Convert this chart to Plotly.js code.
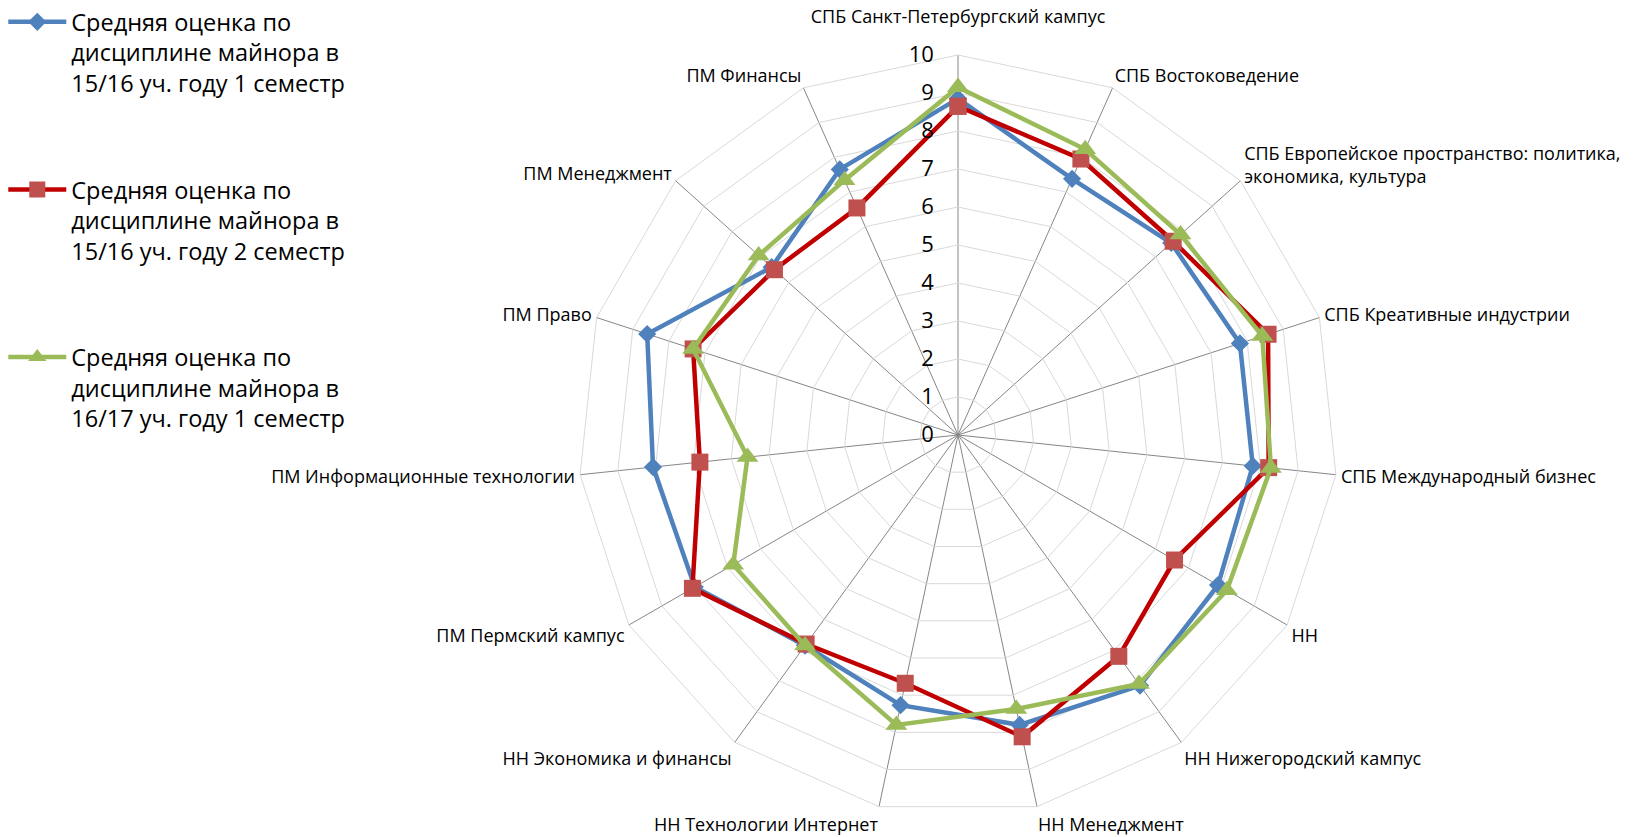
<!DOCTYPE html>
<html>
<head>
<meta charset="utf-8">
<script src="https://cdn.plot.ly/plotly-3.0.1.min.js"></script>
<style>
  html, body { margin: 0; padding: 0; background: #ffffff; }
  #chart { width: 1640px; height: 837px; }
</style>
</head>
<body>
<div id="chart"></div>
<script>
const categories = [
  "СПБ Санкт-Петербургский кампус",
  "СПБ Востоковедение",
  "СПБ Европейское пространство: политика, экономика, культура",
  "СПБ Креативные индустрии",
  "СПБ Международный бизнес",
  "НН",
  "НН Нижегородский кампус",
  "НН Менеджмент",
  "НН Технологии Интернет",
  "НН Экономика и финансы",
  "ПМ Пермский кампус",
  "ПМ Информационные технологии",
  "ПМ Право",
  "ПМ Менеджмент",
  "ПМ Финансы"
];

const seriesNames = [
  "Средняя оценка по<br>дисциплине майнора в<br>15/16 уч. году 1 семестр",
  "Средняя оценка по<br>дисциплине майнора в<br>15/16 уч. году 2 семестр",
  "Средняя оценка по<br>дисциплине майнора в<br>16/17 уч. году 1 семестр"
];

const sem1_1516 = [8.85, 7.38, 7.55, 7.80, 7.80, 7.90, 8.15, 7.80, 7.27, 6.85, 8.00, 8.07, 8.60, 6.60, 7.65];
const sem2_1516 = [8.65, 7.95, 7.62, 8.58, 8.22, 6.58, 7.20, 8.12, 6.68, 6.80, 8.07, 6.83, 7.33, 6.50, 6.54];
const sem1_1617 = [9.15, 8.23, 7.88, 8.42, 8.28, 8.17, 8.10, 7.37, 7.80, 6.85, 6.83, 5.57, 7.33, 7.06, 7.34];

const radialTicks = [0, 1, 2, 3, 4, 5, 6, 7, 8, 9, 10];

// label text for the angular axis (wrapping as in the original)
const categoryLabels = categories.map((c, i) => {
  if (c.indexOf("политика, ") >= 0) return c.replace("политика, ", "политика,<br>");
  if (i === 0) return c + "<br>\u00A0";
  return c;
});

function closed(arr) { return arr.concat([arr[0]]); }

const styles = [
  { line: "#4F81BD", marker: "#4F81BD", symbol: "diamond", size: 14 },
  { line: "#C00000", marker: "#C0504D", symbol: "square", size: 17 },
  { line: "#9BBB59", marker: "#9BBB59", symbol: "triangle-up", size: 19 }
];
const allSeries = [sem1_1516, sem2_1516, sem1_1617];

const traces = allSeries.map((vals, i) => ({
  type: "scatterpolar",
  mode: "lines+markers",
  r: closed(vals),
  theta: closed(categories),
  name: seriesNames[i],
  legendgroup: "g" + i,
  line: { color: styles[i].line, width: 4.5 },
  marker: { color: styles[i].marker, symbol: styles[i].symbol, size: styles[i].size, line: { width: 0 } },
  hoverinfo: "r+theta"
}));

const layout = {
  width: 1640,
  height: 837,
  margin: { l: 0, r: 0, t: 0, b: 0 },
  paper_bgcolor: "#ffffff",
  font: { family: "Open Sans, Noto Sans, DejaVu Sans, sans-serif", color: "#000000" },
  showlegend: true,
  legend: {
    x: 0.002, y: 1.0, xanchor: "left", yanchor: "top",
    font: { size: 23.5, color: "#000000" },
    itemwidth: 58,
    valign: "top",
    traceorder: "grouped",
    tracegroupgap: 73,
    bgcolor: "rgba(0,0,0,0)"
  },
  polar: {
    domain: { x: [0.3524, 0.8159], y: [0.0263, 0.9343] },
    bgcolor: "#ffffff",
    gridshape: "linear",
    angularaxis: {
      type: "category",
      categoryorder: "array",
      categoryarray: categories,
      tickmode: "array",
      tickvals: categories,
      ticktext: categoryLabels,
      rotation: 90,
      direction: "clockwise",
      showline: true,
      linecolor: "#D9D9D9",
      linewidth: 1,
      gridcolor: "#868686",
      gridwidth: 1,
      ticks: "outside",
      ticklen: 1,
      tickcolor: "rgba(0,0,0,0)",
      tickfont: { size: 18, color: "#000000" }
    },
    radialaxis: {
      range: [0, 10],
      tickvals: radialTicks,
      ticktext: radialTicks.map(String),
      angle: 90,
      tickangle: 90,
      side: "counterclockwise",
      showline: false,
      gridcolor: "#D9D9D9",
      gridwidth: 1,
      ticks: "outside",
      ticklen: 16,
      tickcolor: "rgba(0,0,0,0)",
      tickfont: { size: 22, color: "#000000" }
    }
  }
};

Plotly.newPlot("chart", traces, layout, { displayModeBar: false, staticPlot: true });
</script>
</body>
</html>
